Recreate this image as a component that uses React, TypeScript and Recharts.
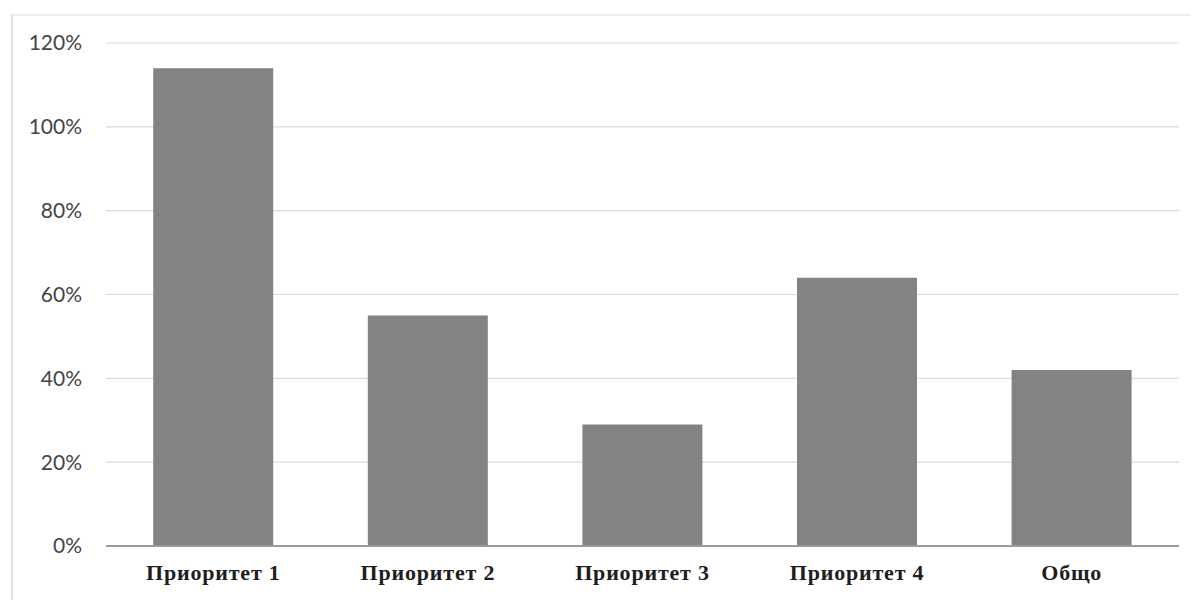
import { BarChart, Bar, XAxis, YAxis, CartesianGrid } from "recharts";

const categories = ["Приоритет 1", "Приоритет 2", "Приоритет 3", "Приоритет 4", "Общо"];
const values = [1.14, 0.55, 0.29, 0.64, 0.42];
const yTicks = [0, 0.2, 0.4, 0.6, 0.8, 1.0, 1.2];

const data = categories.map((name, i) => ({ name, value: values[i] }));

export default function App() {
  return (
    <div style={{ position: "absolute", left: 0, top: 0, width: 1199, height: 600, background: "#fff" }}>
      <div
        style={{
          position: "absolute",
          left: 11,
          top: 14,
          right: 8,
          bottom: 0,
          borderLeft: "2px solid #e2e2e2",
          borderTop: "2px solid #eeeeee",
        }}
      />
      <BarChart
        width={1199}
        height={600}
        data={data}
        margin={{ top: 43, right: 20, left: 0, bottom: 14 }}
        barCategoryGap="22%"
        style={{ position: "absolute", left: 0, top: 0 }}
      >
        <CartesianGrid vertical={false} stroke="#dadada" strokeWidth={1.2} />
        <XAxis
          dataKey="name"
          height={40}
          tickLine={false}
          axisLine={{ stroke: "#9a9a9a", strokeWidth: 2 }}
          tickMargin={12}
          tick={{ fill: "#1e1e1e", fontSize: 22, fontFamily: "Liberation Serif", fontWeight: 700, letterSpacing: 0.8 }}
        />
        <YAxis
          width={106}
          domain={[0, 1.2]}
          ticks={yTicks}
          interval={0}
          axisLine={false}
          tickLine={false}
          tickMargin={18}
          tickFormatter={(v: number) => `${Math.round(v * 100)}%`}
          tick={{ fill: "#454545", fontSize: 21, fontFamily: "Lato" }}
        />
        <Bar dataKey="value" fill="#838383" isAnimationActive={false} />
      </BarChart>
    </div>
  );
}
